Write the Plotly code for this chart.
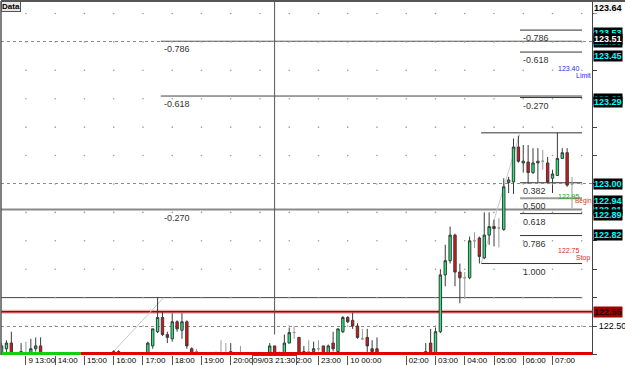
import plotly.graph_objects as go

# ---------------- data ----------------
times = ["9 12:10", "9 12:20", "9 12:30", "9 12:50", "9 13:00", "9 13:10", "9 13:20", "9 13:30",
         "9 16:00", "9 16:10", "9 17:10", "9 17:20", "9 17:30", "9 17:40", "9 17:50", "9 18:00",
         "9 18:10", "9 18:20", "9 18:30", "9 18:40", "9 18:50", "9 19:30", "9 19:40", "9 19:50",
         "9 20:00", "9 20:20", "9 21:20", "9 21:30", "9 21:40", "9 21:50", "9 22:00", "9 22:10",
         "9 22:20", "9 22:30", "9 22:40", "9 22:50", "9 23:00", "9 23:10", "9 23:20", "9 23:30",
         "9 23:40", "9 23:50", "10 00:00", "10 00:10", "10 00:20", "10 00:30", "10 00:40", "10 00:50",
         "10 01:00", "10 02:40", "10 02:50", "10 03:00", "10 03:10", "10 03:20", "10 03:30", "10 03:40",
         "10 03:50", "10 04:00", "10 04:10", "10 04:20", "10 04:30", "10 04:40", "10 04:50", "10 05:00",
         "10 05:10", "10 05:20", "10 05:30", "10 05:40", "10 05:50", "10 06:00", "10 06:10", "10 06:20",
         "10 06:30", "10 06:40", "10 06:50", "10 07:00", "10 07:10", "10 07:20", "10 07:30", "10 07:40"]
opens = [122.39, 122.42, 122.44, 122.40, 122.405, 122.40, 122.42, 122.43,
         122.40, 122.41, 122.40, 122.43, 122.48, 122.53, 122.47, 122.455,
         122.515, 122.485, 122.515, 122.42, 122.41, 122.40, 122.40, 122.40,
         122.40, 122.40, 122.40, 122.43, 122.40, 122.40, 122.44, 122.477,
         122.46, 122.40, 122.41, 122.41, 122.42, 122.43, 122.40, 122.44,
         122.41, 122.48, 122.53, 122.52, 122.50, 122.455, 122.46, 122.42,
         122.42, 122.40, 122.44, 122.40, 122.48, 122.68, 122.73, 122.82,
         122.69, 122.67, 122.67, 122.80, 122.81, 122.74, 122.82, 122.85,
         122.845, 122.84, 123.005, 123.007, 123.13, 123.074, 123.077, 123.04,
         123.074, 123.08, 123.074, 123.02, 123.03, 123.09, 123.11, 123.00]
highs = [122.44, 122.45, 122.48, 122.44, 122.445, 122.455, 122.46, 122.46,
         122.415, 122.415, 122.445, 122.49, 122.60, 122.55, 122.48, 122.545,
         122.52, 122.545, 122.52, 122.425, 122.42, 122.41, 122.45, 122.44,
         122.44, 122.43, 122.44, 122.43, 122.41, 122.47, 122.495, 122.50,
         122.46, 122.43, 122.45, 122.445, 122.45, 122.43, 122.435, 122.48,
         122.49, 122.535, 122.535, 122.547, 122.51, 122.49, 122.49, 122.45,
         122.46, 122.44, 122.49, 122.495, 122.70, 122.786, 122.85, 122.825,
         122.72, 122.69, 122.815, 122.83, 122.815, 122.90, 122.90, 122.874,
         122.88, 123.02, 123.025, 123.16, 123.17, 123.137, 123.137, 123.126,
         123.126, 123.12, 123.095, 123.05, 123.18, 123.126, 123.126, 123.025]
lows = [122.37, 122.40, 122.38, 122.39, 122.38, 122.39, 122.41, 122.38,
        122.39, 122.39, 122.38, 122.42, 122.475, 122.465, 122.44, 122.445,
        122.48, 122.455, 122.42, 122.39, 122.39, 122.39, 122.39, 122.39,
        122.39, 122.39, 122.39, 122.39, 122.39, 122.39, 122.44, 122.455,
        122.39, 122.39, 122.39, 122.39, 122.41, 122.39, 122.39, 122.41,
        122.40, 122.475, 122.51, 122.49, 122.455, 122.45, 122.39, 122.39,
        122.39, 122.39, 122.38, 122.38, 122.475, 122.64, 122.72, 122.64,
        122.58, 122.595, 122.665, 122.775, 122.72, 122.735, 122.786, 122.78,
        122.777, 122.835, 122.968, 122.965, 123.075, 123.04, 123.00, 123.035,
        123.007, 123.05, 123.005, 122.968, 123.03, 123.09, 122.99, 122.916]
closes = [122.43, 122.44, 122.40, 122.41, 122.405, 122.42, 122.43, 122.40,
          122.41, 122.40, 122.44, 122.49, 122.53, 122.47, 122.46, 122.515,
          122.49, 122.515, 122.43, 122.40, 122.41, 122.40, 122.40, 122.40,
          122.41, 122.40, 122.43, 122.40, 122.40, 122.44, 122.477, 122.477,
          122.40, 122.41, 122.41, 122.42, 122.42, 122.40, 122.43, 122.42,
          122.49, 122.53, 122.515, 122.50, 122.46, 122.455, 122.43, 122.41,
          122.40, 122.41, 122.40, 122.48, 122.68, 122.73, 122.82, 122.69,
          122.67, 122.67, 122.80, 122.80, 122.745, 122.82, 122.85, 122.843,
          122.845, 122.99, 123.014, 123.13, 123.08, 123.08, 123.04, 123.074,
          123.08, 123.08, 123.007, 123.035, 123.09, 123.11, 122.996, 123.00]

hour_ticks = [13, 14, 15, 16, 17, 18, 19, 20, 22, 23, 24, 26, 27, 28, 29, 30, 31]
hour_labels = ["9 13:00", "14:00", "15:00", "16:00", "17:00", "18:00", "19:00", "20:00",
               "22:00", "23:00", "10 00:00", "02:00", "03:00", "04:00", "05:00", "06:00", "07:00"]

# 123.00 and 123.50 ticks sit under price flags, so only 122.50 is labelled
price_ticks = [122.5, 123.0, 123.5]
price_tick_labels = ["122.50", "", ""]

# Fibonacci sets
left_fib_zero, left_fib_unit = 122.60, 1.148
left_fib_levels = [-0.786, -0.618, -0.270, 0.0]
right_fib_zero, right_fib_one = 123.18, 122.72
right_fib_levels = [-0.786, -0.618, -0.270, 0.0, 0.382, 0.500, 0.618, 0.786, 1.000]

stop_line = 122.55
limit_price, begin_price, stop_price = 123.40, 122.95, 122.75
cursor_time = "09/03 21:30"

# price flags on the right scale (value, text colour, background)
scale_flags = [(123.53, "#00ffff", "black"), (123.50, "#00ffff", "black"), (123.51, "white", "black"),
               (123.45, "#00ffff", "black"), (123.30, "#00ffff", "black"), (123.29, "#00ffff", "black"),
               (123.00, "#00ffff", "black"), (122.94, "#00ffff", "black"), (122.91, "#00ffff", "black"),
               (122.89, "#00ffff", "black"), (122.82, "#00ffff", "black"), (122.55, "#220000", "#a00000")]
top_price = 123.64

# ---------------- helpers ----------------
def to_hours(s):
    d, hm = s.split()
    h, m = hm.split(":")
    return (int(d) - 9) * 24 + int(h) + int(m) / 60.0

x = [to_hours(t) for t in times]
X_MIN, X_MAX = 12.147, 32.35
Y_MIN, Y_MAX = 122.398, 123.644

fig = go.Figure()

# grid dots
gx, gy = [], []
for h in range(13, 33):
    for k in range(0, 13):
        p = round(122.4 + 0.1 * k, 2)
        gx.append(h)
        gy.append(p)
fig.add_trace(go.Scatter(x=gx, y=gy, mode="markers", marker=dict(size=1.6, color="#9a9a9a"),
                         hoverinfo="skip", showlegend=False))

def subset(cond):
    idx = [i for i in range(len(x)) if cond(opens[i], closes[i])]
    return ([x[i] for i in idx], [opens[i] for i in idx], [highs[i] for i in idx],
            [lows[i] for i in idx], [closes[i] for i in idx])

for cond, fill, line in [(lambda o, c: c > o, "#1ff07c", "#3a3a3a"),
                         (lambda o, c: c < o, "#e81010", "#3a3a3a"),
                         (lambda o, c: c == o, "#999999", "#999999")]:
    sx, so, sh, sl, sc = subset(cond)
    fig.add_trace(go.Candlestick(
        x=sx, open=so, high=sh, low=sl, close=sc,
        increasing=dict(fillcolor=fill, line=dict(color=line, width=1)),
        decreasing=dict(fillcolor=fill, line=dict(color=line, width=1)),
        showlegend=False, hoverinfo="skip"))

shapes = []
ann = []

def hline(y, x0, x1, color, width=1, xref="x"):
    shapes.append(dict(type="line", xref=xref, yref="y", x0=x0, x1=x1, y0=y, y1=y,
                       line=dict(color=color, width=width), layer="below"))

# left fib
LEFT_START, FIB_END = 17.61, 32.01
for lv in left_fib_levels:
    p = left_fib_zero - lv * left_fib_unit
    if lv in (0.0,):
        hline(p, X_MIN, FIB_END, "#444444", 1)
    elif lv == -0.270:
        hline(p, X_MIN, FIB_END, "#8a8a8a", 2)
    else:
        hline(p, LEFT_START, FIB_END, "#444444", 1)
    if lv != 0.0:
        ann.append(dict(x=LEFT_START + 0.03, y=p, xref="x", yref="y", text=f"{lv:.3f}",
                        showarrow=False, xanchor="left", yanchor="top", yshift=-1,
                        font=dict(family="Liberation Sans", size=9, color="#333333")))

# right fib
R_START_OUT, R_START_IN = 28.56, 29.89
rng = right_fib_zero - right_fib_one
for lv in right_fib_levels:
    p = right_fib_zero - lv * rng
    x0 = R_START_OUT if lv in (0.0, 1.0) else R_START_IN
    col, w = ("#9a9a9a", 2) if lv == 0.5 else ("#333333", 1)
    hline(p, x0, FIB_END, col, w)
    if lv != 0.0:
        ann.append(dict(x=R_START_IN + 0.03, y=p, xref="x", yref="y", text=f"{lv:.3f}",
                        showarrow=False, xanchor="left", yanchor="top", yshift=-1,
                        font=dict(family="Liberation Sans", size=9, color="#333333")))

# trend diagonals
shapes.append(dict(type="line", xref="x", yref="y", x0=15.90, y0=122.40, x1=17.71, y1=left_fib_zero,
                   line=dict(color="#c8c8c8", width=1), layer="below"))
shapes.append(dict(type="line", xref="x", yref="y", x0=28.56, y0=right_fib_one, x1=29.89, y1=right_fib_zero,
                   line=dict(color="#c8c8c8", width=1), layer="below"))

# stop line (dark red)
shapes.append(dict(type="line", xref="paper", yref="y", x0=0, x1=1, y0=stop_line, y1=stop_line,
                   line=dict(color="#e8b0b0", width=4), layer="below"))
shapes.append(dict(type="line", xref="paper", yref="y", x0=0, x1=1, y0=stop_line, y1=stop_line,
                   line=dict(color="#a00000", width=1.5), layer="below"))

# cursor vertical
cur_h = 21.5
shapes.append(dict(type="line", xref="x", yref="y", x0=cur_h, x1=cur_h, y0=122.47, y1=Y_MAX,
                   line=dict(color="#555555", width=1), layer="below"))

# bottom session bar
shapes.append(dict(type="line", xref="x", yref="y domain", x0=X_MIN, x1=14.88, y0=0.004, y1=0.004,
                   line=dict(color="#10d010", width=3)))
shapes.append(dict(type="line", xref="x", yref="y domain", x0=14.88, x1=X_MAX, y0=0.004, y1=0.004,
                   line=dict(color="#e00000", width=3)))

# borders
shapes.append(dict(type="line", xref="paper", yref="paper", x0=0, x1=1.06, y0=1, y1=1,
                   line=dict(color="#555555", width=2)))
shapes.append(dict(type="line", xref="paper", yref="paper", x0=0, x1=0, y0=0, y1=1,
                   line=dict(color="#555555", width=1.5)))

# order texts
order_texts = [
    (31.13, limit_price, f"{limit_price:.2f}", "#2a2aff", 2, 7),
    (31.72, limit_price, "Limit", "#2a2aff", -5, 7),
    (31.13, begin_price, f"{begin_price:.2f}", "#2aa02a", 2, 7),
    (31.70, begin_price, "Begin", "#c84a20", -3, 6.5),
    (31.13, stop_price, f"{stop_price:.2f}", "#ee2020", 4, 7),
    (31.72, stop_price, "Stop", "#ee2020", -3, 7),
]
for tx, ty, tt, tc, ys, fs in order_texts:
    ann.append(dict(x=tx, y=ty, xref="x", yref="y", text=tt, showarrow=False, xanchor="left",
                    yshift=ys, font=dict(family="Liberation Sans", size=fs, color=tc)))

# right scale flags
for val, fc, bg in scale_flags:
    ann.append(dict(x=1, y=val, xref="paper", yref="y", text=f"<b>{val:.2f}</b>", showarrow=False,
                    xanchor="left", xshift=1, bgcolor=bg, borderpad=0,
                    font=dict(family="Liberation Sans", size=9, color=fc)))
ann.append(dict(x=1, y=1, xref="paper", yref="paper", text=f"<b>{top_price:.2f}</b>", showarrow=False,
                xanchor="left", yanchor="top", xshift=1, yshift=-1, bgcolor="#f4f4f4", borderpad=0,
                font=dict(family="Liberation Sans", size=9, color="black")))

# Data box
ann.append(dict(x=0, y=1, xref="paper", yref="paper", text="<b>Data</b>", showarrow=False,
                xanchor="left", yanchor="top", bgcolor="#e6e6e6", bordercolor="#555555", borderwidth=1,
                borderpad=0, font=dict(family="Liberation Sans", size=8, color="black")))

# cursor time box
ann.append(dict(x=cur_h, y=0, xref="x", yref="paper", text=cursor_time, showarrow=False,
                xanchor="center", yanchor="top", yshift=0, bgcolor="white", bordercolor="#555555",
                borderwidth=1, borderpad=0, font=dict(family="Liberation Sans", size=8, color="black")))

fig.update_layout(
    width=625, height=365,
    margin=dict(l=1, r=33, t=1, b=10, autoexpand=False),
    paper_bgcolor="white", plot_bgcolor="white",
    shapes=shapes, annotations=ann,
    showlegend=False,
    xaxis=dict(range=[X_MIN, X_MAX], showgrid=False, zeroline=False, rangeslider=dict(visible=False),
               tickmode="array", tickvals=hour_ticks, ticktext=hour_labels, tickangle=0, automargin=False,
               ticks="outside", ticklen=9, tickcolor="#555555", tickwidth=1,
               ticklabelposition="outside right", ticklabelstandoff=-3, ticklabelshift=2,
               tickfont=dict(family="Liberation Sans", size=8, color="black"),
               showline=False),
    yaxis=dict(range=[Y_MIN, Y_MAX], side="right", showgrid=True, gridcolor="#8a8a8a",
               griddash="dot", gridwidth=1, zeroline=False, automargin=False,
               tickmode="array", tickvals=price_ticks, ticktext=price_tick_labels,
               ticks="outside", ticklen=4, tickcolor="#444444",
               minor=dict(dtick=0.1, tick0=122.4, ticks="outside", ticklen=4, tickcolor="#444444", showgrid=False),
               showline=True, linecolor="#444444", linewidth=1,
               tickfont=dict(family="Liberation Sans", size=9, color="black")),
)

fig.write_html("out.html")
